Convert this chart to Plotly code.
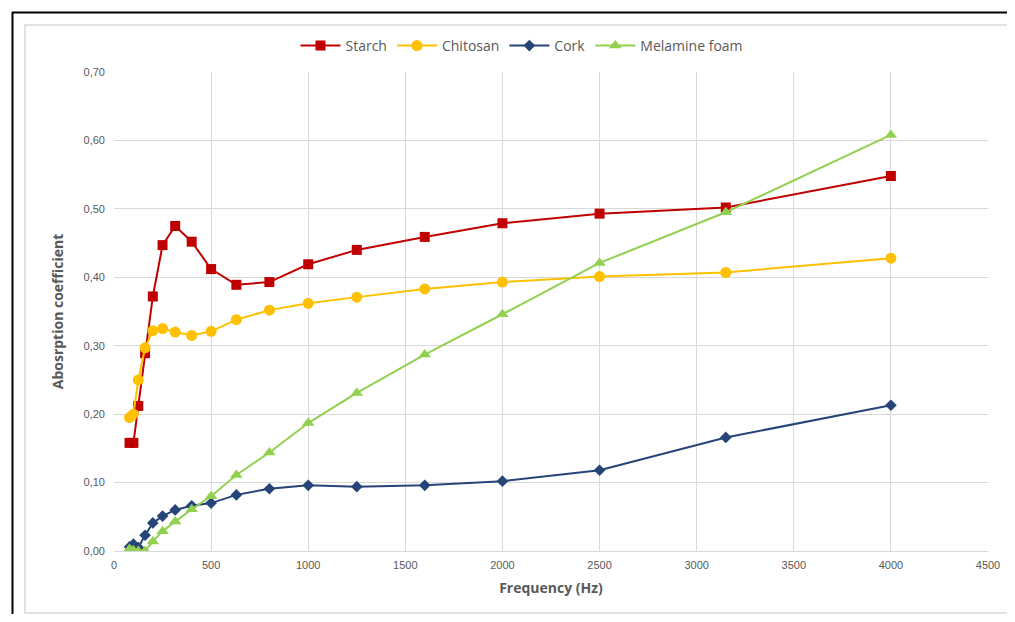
import plotly.graph_objects as go

freq = [80, 100, 125, 160, 200, 250, 315, 400, 500, 630, 800, 1000, 1250, 1600, 2000, 2500, 3150, 4000]
starch = [0.158, 0.158, 0.212, 0.289, 0.372, 0.447, 0.475, 0.452, 0.412, 0.389, 0.393, 0.419, 0.440, 0.459, 0.479, 0.493, 0.502, 0.548]
chitosan = [0.195, 0.200, 0.250, 0.297, 0.322, 0.325, 0.320, 0.315, 0.321, 0.338, 0.352, 0.362, 0.371, 0.383, 0.393, 0.401, 0.407, 0.428]
cork = [0.006, 0.010, 0.005, 0.023, 0.041, 0.051, 0.060, 0.066, 0.070, 0.082, 0.091, 0.096, 0.094, 0.096, 0.102, 0.118, 0.166, 0.213]
melamine = [0.003, 0.001, 0.000, 0.000, 0.014, 0.029, 0.043, 0.061, 0.080, 0.111, 0.144, 0.187, 0.231, 0.287, 0.346, 0.421, 0.495, 0.608]

OFF = 8  # page body margin
W, H = 1015 - 2 * OFF, 622 - 2 * OFF
L, R, T = 114 - OFF, 1015 - OFF - 988, 72 - OFF
B = H - (551 - OFF)
PW, PH = W - L - R, H - T - B

def px(x):
    return (x - OFF - L) / PW

def py(y):
    return (H - B - (y - OFF)) / PH

fig = go.Figure()
series = [
    ("Starch", starch, "#C00000", "square", 10),
    ("Chitosan", chitosan, "#FFC000", "circle", 11),
    ("Cork", cork, "#264478", "diamond", 9),
    ("Melamine foam", melamine, "#92D050", "triangle-up", 11),
]
for name, vals, col, sym, sz in series:
    fig.add_trace(go.Scatter(
        x=freq, y=vals, name=name, mode="lines+markers",
        line=dict(color=col, width=2),
        marker=dict(symbol=sym, size=sz, color=col),
    ))

grid = "#D9D9D9"
tickfont = dict(family="Liberation Sans Narrow, Liberation Sans, sans-serif", size=11, color="#595959")
fig.update_layout(
    width=W, height=H,
    margin=dict(l=L, r=R, t=T, b=B, autoexpand=False),
    paper_bgcolor="white", plot_bgcolor="white",
    separators=",.",
    font=dict(family="Open Sans, sans-serif", color="#595959"),
    legend=dict(orientation="h", x=px(522), xanchor="center", y=py(46), yanchor="middle",
                font=dict(size=14, color="#595959"), itemwidth=40, traceorder="normal"),
    xaxis=dict(range=[0, 4500], dtick=500, tick0=0, showgrid=True, gridcolor=grid, gridwidth=1,
               zeroline=False, showline=True, linecolor=grid, ticks="", tickfont=tickfont,
               ticklabelstandoff=4, automargin=False,
               title=dict(text="<b>Frequency (Hz)</b>", font=dict(size=14, color="#595959"), standoff=12)),
    yaxis=dict(range=[0, 0.7], dtick=0.1, tick0=0, tickformat=".2f", showgrid=True, gridcolor=grid,
               gridwidth=1, zeroline=False, showline=False, ticks="", tickfont=tickfont, ticklabelstandoff=8,
               automargin=False,
               title=dict(text="<b>Abosrption coefficient</b>", font=dict(size=14, color="#595959"), standoff=16)),
    shapes=[
        dict(type="rect", xref="paper", yref="paper", x0=px(25), x1=px(1015 + 5), y0=py(613), y1=py(25),
             line=dict(color="#D9D9D9", width=1.5), layer="below"),
        dict(type="line", xref="paper", yref="paper", x0=px(12.5), x1=px(12.5), y0=py(12), y1=py(622 + 5),
             line=dict(color="black", width=2)),
        dict(type="line", xref="paper", yref="paper", x0=px(12), x1=px(1015 + 5), y0=py(12.5), y1=py(12.5),
             line=dict(color="black", width=2)),
    ],
)
fig.write_html("out.html")
